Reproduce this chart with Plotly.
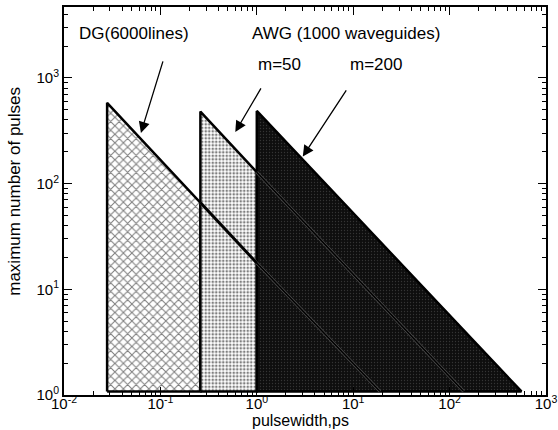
import plotly.graph_objects as go

# ---- data ----
dg_x = [0.028, 0.028, 0.26, 0.26, 0.028]
dg_y = [1.08, 580, 66, 1.08, 1.08]
dg_line_x = [0.26, 1.0, 19]
dg_line_y = [66, 17.7, 1.08]

m50_x = [0.26, 0.26, 1.0, 1.0, 0.26]
m50_y = [1.08, 480, 128, 1.08, 1.08]
m50_line_x = [1.0, 140]
m50_line_y = [128, 1.08]

m200_x = [1.0, 1.0, 556, 1.0]
m200_y = [1.08, 486, 1.08, 1.08]

x_tickvals = [0.01, 0.1, 1, 10, 100, 1000]
x_ticktext = ["10<sup>-2</sup>", "10<sup>-1</sup>", "10<sup>0</sup>",
              "10<sup>1</sup>", "10<sup>2</sup>", "10<sup>3</sup>"]
y_tickvals = [1, 10, 100, 1000]
y_ticktext = ["10<sup>0</sup>", "10<sup>1</sup>", "10<sup>2</sup>", "10<sup>3</sup>"]

x_minor = [m * 10.0 ** k for k in range(-2, 3) for m in range(2, 10)]
y_minor = [m * 10.0 ** k for k in range(0, 4) for m in range(2, 10)]

FONT = "Liberation Sans, Arial, Helvetica, sans-serif"

fig = go.Figure()

fig.add_trace(go.Scatter(
    x=dg_x, y=dg_y, mode="lines", fill="toself",
    fillcolor="white",
    fillpattern=dict(shape="x", fgcolor="black", bgcolor="white", size=6, solidity=0.32),
    line=dict(color="black", width=2.5), hoverinfo="skip", showlegend=False))

fig.add_trace(go.Scatter(
    x=m50_x, y=m50_y, mode="lines", fill="toself",
    fillcolor="white",
    fillpattern=dict(shape=".", fgcolor="black", bgcolor="white", size=3.5, solidity=0.45),
    line=dict(color="black", width=2.5), hoverinfo="skip", showlegend=False))

fig.add_trace(go.Scatter(
    x=m200_x, y=m200_y, mode="lines", fill="toself",
    fillcolor="#111111",
    fillpattern=dict(shape=".", fgcolor="#5a5a5a", bgcolor="#0e0e0e", size=3, solidity=0.15),
    line=dict(color="black", width=2.5), hoverinfo="skip", showlegend=False))

# continuation lines
for lx, ly in [(dg_line_x, dg_line_y), (m50_line_x, m50_line_y)]:
    fig.add_trace(go.Scatter(x=lx, y=ly, mode="lines",
                             line=dict(color="#505050", width=3),
                             hoverinfo="skip", showlegend=False))
    fig.add_trace(go.Scatter(x=lx, y=ly, mode="lines",
                             line=dict(color="black", width=1.6),
                             hoverinfo="skip", showlegend=False))

# the DG line over the m=50 region is bold
fig.add_trace(go.Scatter(x=dg_line_x[:2], y=dg_line_y[:2], mode="lines",
                         line=dict(color="black", width=2.5),
                         hoverinfo="skip", showlegend=False))

texts = [
    ("DG(6000lines)", -1.27, 3.415),
    ("AWG (1000 waveguides)", 0.927, 3.415),
    ("m=50", 0.238, 3.13),
    ("m=200", 1.238, 3.13),
]
for t, xx, yy in texts:
    fig.add_annotation(x=xx, y=yy, xref="x", yref="y", text=t, showarrow=False,
                       font=dict(family=FONT, size=17, color="black"))

arrows = [
    (-1.202, 2.479, -0.969, 3.17),
    (-0.223, 2.488, 0.052, 2.914),
    (0.477, 2.255, 0.938, 2.895),
]
for xt, yt, xa, ya in arrows:
    fig.add_annotation(x=xt, y=yt, ax=xa, ay=ya, xref="x", yref="y",
                       axref="x", ayref="y", text="", showarrow=True,
                       arrowhead=2, arrowsize=1.7, arrowwidth=1.3,
                       arrowcolor="black")

# axis titles
fig.add_annotation(x=0.49, y=-0.066, xref="paper", yref="paper", text="pulsewidth,ps",
                   showarrow=False, xanchor="center", yanchor="middle",
                   font=dict(family=FONT, size=16, color="black"))
fig.add_annotation(x=-0.102, y=0.526, xref="paper", yref="paper",
                   text="maximum number of pulses", textangle=-90,
                   showarrow=False, xanchor="center", yanchor="middle",
                   font=dict(family=FONT, size=17, color="black"))

axis_common = dict(
    type="log", showgrid=False, zeroline=False,
    showline=True, linecolor="black", linewidth=2, mirror=True,
    ticks="inside", ticklen=8, tickwidth=1, tickcolor="black",
    tickfont=dict(family=FONT, size=15, color="black"),
)

fig.update_layout(
    xaxis=dict(**axis_common, range=[-2, 3], tickvals=x_tickvals, ticktext=x_ticktext,
               ticklabelstandoff=-6,
               minor=dict(ticks="inside", ticklen=4, tickwidth=1, tickcolor="black",
                          tickvals=x_minor, showgrid=False)),
    yaxis=dict(**axis_common, range=[0, 3.67], tickvals=y_tickvals, ticktext=y_ticktext,
               minor=dict(ticks="inside", ticklen=4, tickwidth=1, tickcolor="black",
                          tickvals=y_minor, showgrid=False)),
    xaxis2=dict(type="log", range=[-2, 3], overlaying="x", side="top", showgrid=False,
                zeroline=False, ticks="inside", ticklen=8, tickcolor="black",
                tickvals=x_tickvals, showticklabels=False,
                minor=dict(ticks="inside", ticklen=4, tickcolor="black",
                           tickvals=x_minor, showgrid=False)),
    yaxis2=dict(type="log", range=[0, 3.67], overlaying="y", side="right", showgrid=False,
                zeroline=False, ticks="inside", ticklen=8, tickcolor="black",
                tickvals=y_tickvals, showticklabels=False,
                minor=dict(ticks="inside", ticklen=4, tickcolor="black",
                           tickvals=y_minor, showgrid=False)),
    width=558, height=430,
    margin=dict(l=64, r=12, t=7, b=35, autoexpand=False),
    plot_bgcolor="white", paper_bgcolor="white",
    font=dict(family=FONT, color="black"),
)

# invisible trace to activate the mirrored tick axes
fig.add_trace(go.Scatter(x=[1], y=[1], xaxis="x2", yaxis="y2", mode="markers",
                         marker=dict(opacity=0), hoverinfo="skip", showlegend=False))

fig.write_html("out.html", config={"displayModeBar": False},
               post_script="document.body.style.margin='0';")
